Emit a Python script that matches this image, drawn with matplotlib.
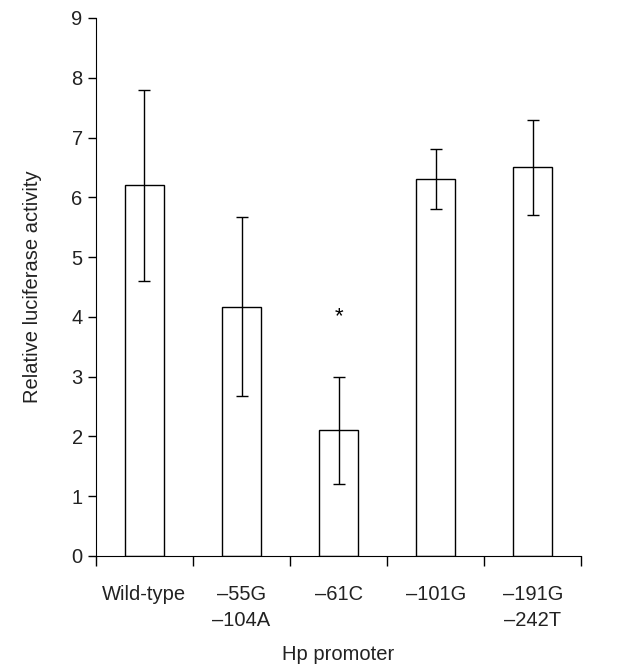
import numpy as np
import matplotlib.pyplot as plt
from matplotlib.ticker import FixedLocator, NullFormatter

plt.rcParams['font.family'] = ['Liberation Sans', 'DejaVu Sans']

# values
groups = ['Wild-type', '\u201355G\n\u2013104A', '\u201361C', '\u2013101G', '\u2013191G\n\u2013242T']
activity = [6.2, 4.17, 2.1, 6.3, 6.5]
errors = [1.6, 1.5, 0.9, 0.5, 0.8]
star_group = 2
star_level = 4.0

fig = plt.figure(figsize=(6.27, 6.65), dpi=100)
ax = fig.add_axes([0.153, 0.164, 0.774, 0.809])

x = np.arange(len(groups))
ax.bar(x, activity, width=0.4, color='white', edgecolor='black', linewidth=1.0, zorder=2)
ax.errorbar(x, activity, yerr=errors, fmt='none', ecolor='black', elinewidth=1.0,
            capsize=4, capthick=1.0, zorder=3)

# significance mark
ax.text(x[star_group], star_level, '*', ha='center', va='center', fontsize=16)

ax.set_xlim(-0.5, len(groups) - 0.5)
ax.set_ylim(0, 9)
ax.set_yticks(range(0, 10))

# ticks between groups, labels centred under bars
ax.set_xticks(x)
ax.set_xticklabels(groups, fontsize=14.5, color='#222222', linespacing=1.45)
ax.tick_params(axis='x', which='major', length=0, pad=21)
ax.xaxis.set_minor_locator(FixedLocator(np.arange(-0.5, len(groups), 1.0)))
ax.xaxis.set_minor_formatter(NullFormatter())
ax.tick_params(axis='x', which='minor', length=7, width=1.0, direction='out')
ax.tick_params(axis='y', length=6, width=1.0, direction='out', labelsize=14.5,
               labelcolor='#222222')

for s in ['top', 'right']:
    ax.spines[s].set_visible(False)

ax.set_ylabel('Relative luciferase activity', fontsize=14.5, color='#222222', labelpad=21)
ax.set_xlabel('Hp promoter', fontsize=14.5, color='#222222', labelpad=11)

fig.savefig('out.png', dpi=100)
